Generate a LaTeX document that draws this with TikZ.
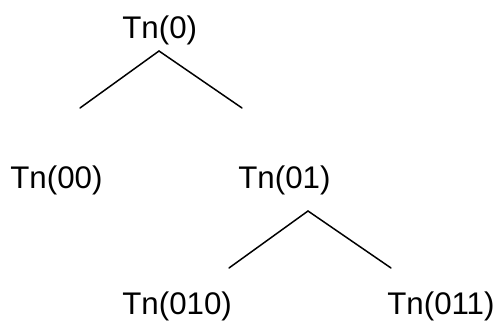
\documentclass[tikz,border=0pt]{standalone}
\usepackage{fontspec}
\setmainfont{Liberation Sans}
\usetikzlibrary{positioning}

\begin{document}
\begin{tikzpicture}[line cap=round,line join=round,x=0.02cm,y=-0.02cm]
    \useasboundingbox (0.,0.) rectangle (500.,323.);
    \tikzset{tn/.style={anchor=base west,inner sep=0pt,font=\fontsize{17.8}{20}\selectfont}}
    % labels
    \node[tn] (tn0) at (122.,38.5) {Tn(0)};
    \node[tn] (tn00) at (10.,189.) {Tn(00)};
    \node[tn] (tn01) at (238.,189.) {Tn(01)};
    \node[tn] (tn010) at (122.,315.) {Tn(010)};
    \node[tn] (tn011) at (387.,315.) {Tn(011)};
    % branch points
    \coordinate (top0) at (159.,51.);
    \coordinate (end00) at (80.,108.);
    \coordinate (end01) at (242.,108.);
    \coordinate (top01) at (308.,211.);
    \coordinate (end010) at (229.,268.);
    \coordinate (end011) at (391.,268.);
    \draw [line width=0.85pt] (top0)-- (end00);
    \draw [line width=0.85pt] (top0)-- (end01);
    \draw [line width=0.85pt] (top01)-- (end010);
    \draw [line width=0.85pt] (top01)-- (end011);
\end{tikzpicture}
\end{document}
